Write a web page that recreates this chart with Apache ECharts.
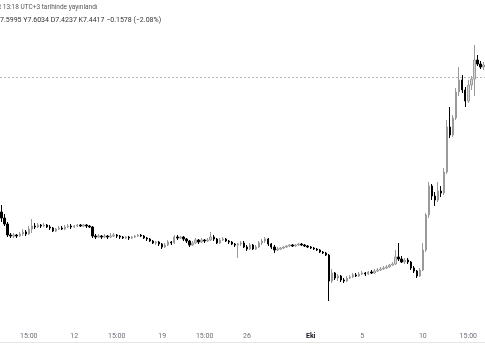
<!DOCTYPE html>
<html>
<head>
<meta charset="utf-8">
<script src="https://cdn.jsdelivr.net/npm/echarts@6/dist/echarts.min.js"></script>
<style>html,body{margin:0;padding:0;background:#fff;}#c{width:485px;height:360px;}</style>
</head>
<body>
<div id="c"></div>
<script>
const opens = [
7.88,7.82,7.76,7.65,7.64,7.65,7.64,7.66,7.68,7.66,
7.71,7.74,7.73,7.75,7.74,7.75,7.73,7.72,7.69,7.71,
7.72,7.71,7.73,7.74,7.73,7.74,7.75,7.74,7.75,7.74,
7.73,7.64,7.63,7.64,7.63,7.64,7.63,7.64,7.65,7.64,
7.63,7.62,7.63,7.62,7.63,7.64,7.65,7.64,7.62,7.61,
7.59,7.57,7.58,7.56,7.53,7.55,7.58,7.57,7.63,7.62,
7.63,7.61,7.59,7.55,7.57,7.60,7.58,7.60,7.59,7.60,
7.63,7.61,7.57,7.60,7.61,7.59,7.58,7.56,7.55,7.56,
7.57,7.53,7.51,7.55,7.51,7.53,7.57,7.59,7.61,7.56,
7.53,7.50,7.51,7.52,7.53,7.54,7.55,7.54,7.55,7.56,
7.55,7.54,7.53,7.52,7.51,7.50,7.48,7.47,7.45,7.19,
7.27,7.22,7.24,7.20,7.19,7.22,7.23,7.25,7.24,7.26,
7.27,7.26,7.28,7.27,7.29,7.30,7.31,7.32,7.33,7.35,
7.36,7.43,7.41,7.38,7.40,7.38,7.32,7.29,7.24,7.30,
7.50,7.85,8.14,8.04,8.00,8.09,8.07,8.28,8.73,8.65,
8.82,9.08,9.20,9.10,8.99,9.15,9.21,9.40,9.36,9.33
];
const closes = [
7.82,7.76,7.65,7.64,7.65,7.64,7.66,7.68,7.66,7.71,
7.74,7.73,7.75,7.74,7.75,7.73,7.72,7.69,7.71,7.72,
7.71,7.73,7.74,7.73,7.74,7.75,7.74,7.75,7.74,7.73,
7.64,7.63,7.64,7.63,7.64,7.63,7.64,7.65,7.64,7.63,
7.62,7.63,7.62,7.63,7.64,7.65,7.64,7.62,7.61,7.59,
7.57,7.58,7.56,7.53,7.55,7.58,7.57,7.63,7.62,7.63,
7.61,7.59,7.55,7.57,7.60,7.58,7.60,7.59,7.60,7.63,
7.61,7.57,7.60,7.61,7.59,7.58,7.56,7.55,7.56,7.57,
7.53,7.51,7.55,7.51,7.53,7.57,7.59,7.61,7.56,7.53,
7.50,7.51,7.52,7.53,7.54,7.55,7.54,7.55,7.56,7.55,
7.54,7.53,7.52,7.51,7.50,7.48,7.47,7.45,7.19,7.27,
7.22,7.24,7.20,7.19,7.22,7.23,7.25,7.24,7.26,7.27,
7.26,7.28,7.27,7.29,7.30,7.31,7.32,7.33,7.35,7.36,
7.43,7.41,7.38,7.40,7.38,7.32,7.29,7.24,7.30,7.50,
7.85,8.14,8.04,8.00,8.09,8.07,8.28,8.73,8.65,8.82,
9.08,9.20,9.10,8.99,9.15,9.21,9.40,9.36,9.33,9.35
];
const lows = [
7.78,7.74,7.63,7.62,7.62,7.62,7.63,7.64,7.64,7.65,
7.67,7.71,7.72,7.72,7.73,7.72,7.70,7.68,7.68,7.70,
7.70,7.70,7.72,7.71,7.72,7.73,7.73,7.73,7.72,7.72,
7.62,7.61,7.62,7.61,7.62,7.61,7.62,7.63,7.62,7.61,
7.61,7.61,7.60,7.61,7.62,7.63,7.63,7.61,7.59,7.58,
7.56,7.55,7.54,7.51,7.52,7.54,7.55,7.56,7.60,7.61,
7.59,7.57,7.53,7.54,7.56,7.56,7.57,7.57,7.58,7.59,
7.59,7.56,7.56,7.59,7.58,7.56,7.55,7.53,7.42,7.54,
7.52,7.49,7.50,7.50,7.50,7.52,7.55,7.57,7.54,7.51,
7.47,7.49,7.50,7.51,7.52,7.53,7.53,7.53,7.54,7.54,
7.53,7.52,7.51,7.50,7.49,7.47,7.46,7.44,6.99,7.17,
7.20,7.19,7.18,7.17,7.18,7.21,7.22,7.23,7.23,7.25,
7.24,7.25,7.26,7.26,7.28,7.29,7.30,7.31,7.32,7.34,
7.35,7.39,7.37,7.36,7.36,7.30,7.27,7.22,7.23,7.29,
7.48,7.82,8.00,7.94,7.98,8.03,8.05,8.26,8.62,8.63,
8.80,9.04,9.07,8.93,8.97,9.10,9.04,9.34,9.31,9.30
];
const highs = [
7.95,7.86,7.78,7.67,7.67,7.66,7.68,7.71,7.70,7.74,
7.81,7.77,7.77,7.76,7.77,7.76,7.75,7.73,7.72,7.74,
7.74,7.75,7.76,7.76,7.75,7.76,7.76,7.76,7.76,7.75,
7.74,7.66,7.66,7.65,7.66,7.65,7.67,7.67,7.66,7.65,
7.64,7.64,7.64,7.64,7.65,7.66,7.66,7.65,7.63,7.62,
7.60,7.59,7.59,7.57,7.57,7.60,7.59,7.65,7.65,7.64,
7.64,7.62,7.60,7.59,7.62,7.61,7.62,7.61,7.62,7.68,
7.65,7.62,7.62,7.63,7.62,7.60,7.59,7.57,7.57,7.59,
7.59,7.55,7.57,7.56,7.55,7.59,7.61,7.63,7.62,7.57,
7.55,7.53,7.53,7.54,7.55,7.56,7.56,7.56,7.57,7.57,
7.56,7.55,7.54,7.53,7.52,7.51,7.49,7.48,7.46,7.31,
7.28,7.26,7.25,7.22,7.24,7.25,7.27,7.27,7.28,7.29,
7.28,7.29,7.30,7.31,7.32,7.33,7.34,7.35,7.36,7.38,
7.50,7.57,7.44,7.42,7.42,7.39,7.34,7.30,7.32,7.57,
7.87,8.18,8.16,8.08,8.18,8.14,8.32,8.80,8.93,8.85,
9.12,9.33,9.25,9.13,9.20,9.24,9.55,9.45,9.39,9.38
];
const tickIdx = [9, 24, 38, 53, 67, 81, 102, 119, 139, 154];
const tickText = ['15:00', '12', '15:00', '19', '15:00', '26', 'Eki', '5', '10', '15:00'];
const refPrice = 9.23;
const headerLine1 = 't 13:18 UTC+3 tarihinde yayınlandı';
const headerLine2 = '7.5995 Y7.6034 D7.4237 K7.4417 \u22120.1578 (\u22122.08%)';

const categories = opens.map((_, i) => String(i));
const ohlc = opens.map((o, i) => [o, closes[i], lows[i], highs[i]]);

const chart = echarts.init(document.getElementById('c'), null, {renderer: 'canvas'});
chart.setOption({
  animation: false,
  backgroundColor: '#ffffff',
  grid: {left: 0, right: 0, top: 0, bottom: 32, containLabel: false},
  xAxis: {
    type: 'category',
    data: categories,
    boundaryGap: true,
    axisLine: {show: false},
    axisTick: {show: false},
    splitLine: {show: false},
    axisLabel: {
      interval: (idx) => tickIdx.includes(idx),
      margin: 5,
      fontFamily: 'Roboto',
      fontSize: 7,
      color: '#6a6d78',
      formatter: (val, idx) => {
        const k = tickIdx.indexOf(Number(val));
        if (k < 0) return '';
        return tickText[k] === 'Eki' ? '{b|Eki}' : tickText[k];
      },
      rich: {b: {fontWeight: 'bold', color: '#131722', fontSize: 7, fontFamily: 'Roboto'}}
    }
  },
  yAxis: {
    type: 'value',
    show: false,
    min: 6.72,
    max: 10,
    splitLine: {show: false}
  },
  series: [{
    type: 'candlestick',
    data: ohlc,
    barWidth: '62%',
    itemStyle: {
      color: '#d6d6d6',
      color0: '#000000',
      borderColor: '#9a9a9a',
      borderColor0: '#000000',
      borderWidth: 1
    },
    markLine: {
      silent: true,
      symbol: ['none', 'none'],
      label: {show: false},
      lineStyle: {color: '#b8b8b8', type: [2, 2], width: 1},
      data: [{yAxis: refPrice}]
    }
  }],
  graphic: [
    {type: 'text', left: -1, top: 4, style: {text: headerLine1, fontFamily: 'Roboto', fontSize: 6.5, fill: '#555'}},
    {type: 'text', left: 0, top: 17, style: {text: headerLine2, fontFamily: 'Roboto', fontSize: 7, fill: '#333'}},
    {type: 'line', shape: {x1: 0, y1: 342.5, x2: 485, y2: 342.5}, style: {stroke: '#e6e6e6', lineWidth: 1}}
  ]
});
</script>
</body>
</html>
